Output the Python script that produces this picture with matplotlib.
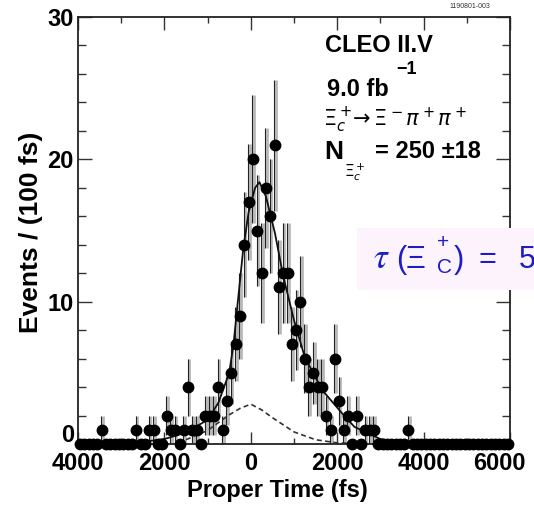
import numpy as np
import matplotlib
matplotlib.use("Agg")
from matplotlib import pyplot as plt
from matplotlib.patches import Rectangle
from matplotlib.ticker import MultipleLocator, FixedLocator
import matplotlib.transforms as mtrans

plt.rcParams['font.family'] = ['Liberation Sans', 'DejaVu Sans']
plt.rcParams['mathtext.fontset'] = 'dejavusans'

# histogram: 100 fs bins from -4000 to 6000 fs
bin_lo = -4000
bin_hi = 6000
bin_w = 100
counts = [0, 0, 0, 0, 0, 1, 0, 0, 0, 0,
          0, 0, 0, 1, 0, 0, 1, 1, 0, 0,
          2, 1, 1, 0, 1, 4, 1, 1, 0, 2,
          2, 2, 4, 1, 3, 5, 7, 9, 14, 17,
          20, 15, 12, 18, 16, 21, 11, 12, 12, 7,
          8, 10, 6, 4, 5, 4, 4, 2, 1, 6,
          3, 1, 2, 0, 2, 0, 1, 1, 1, 0,
          0, 0, 0, 0, 0, 0, 1, 0, 0, 0,
          0, 0, 0, 0, 0, 0, 0, 0, 0, 0,
          0, 0, 0, 0, 0, 0, 0, 0, 0, 0]
errs = [0, 0, 0, 0, 0, 1.0, 0, 0, 0, 0,
        0, 0, 0, 1.0, 0, 0, 1.0, 1.0, 0, 0,
        1.4, 1.0, 1.0, 0, 1.0, 2.0, 1.0, 1.0, 0, 1.4,
        1.4, 1.4, 2.0, 1.0, 1.7, 2.2, 2.6, 3.0, 3.7, 4.1,
        4.5, 3.9, 3.5, 4.2, 4.0, 4.6, 3.3, 3.5, 3.5, 2.6,
        2.8, 3.2, 2.4, 2.0, 2.2, 2.0, 2.0, 1.4, 1.0, 2.4,
        1.7, 1.0, 1.4, 0, 1.4, 0, 1.0, 1.0, 1.0, 0,
        0, 0, 0, 0, 0, 0, 1.0, 0, 0, 0,
        0, 0, 0, 0, 0, 0, 0, 0, 0, 0,
        0, 0, 0, 0, 0, 0, 0, 0, 0, 0]

# fit curves
fit_t = [-2500, -2000, -1500, -1000, -750, -500, -400, -300, -175, -50, 100, 200,
         350, 560, 750, 1000, 1250, 1650, 2100, 2400, 3000, 3500, 4000]
fit_v = [0.15, 0.35, 0.8, 1.7, 2.9, 5.0, 7.0, 10.0, 13.7, 16.3, 18.0, 18.4,
         17.4, 14.8, 11.8, 8.7, 6.1, 3.8, 2.2, 1.2, 0.35, 0.1, 0.03]
bkg_t = [-1500, -1000, -500, -250, 0, 250, 500, 1000, 1500, 2000, 2500]
bkg_v = [0.3, 0.95, 2.05, 2.5, 2.8, 2.4, 1.85, 0.85, 0.3, 0.08, 0.02]

xtick_vals = [-4000, -2000, 0, 2000, 4000, 6000]
xtick_text = ['4000', '2000', '0', '2000', '4000', '6000']
ytick_vals = [0, 10, 20, 30]

W, H = 534, 507
fig = plt.figure(figsize=(W / 100, H / 100), dpi=100)
ax = fig.add_axes([78 / W, 63 / H, 432 / W, 427 / H])

t = np.arange(bin_lo + bin_w / 2, bin_hi, bin_w)
c = np.array(counts, float)
e = np.array(errs, float)
has = c > 0

# scanned-looking error bars: grey wide + thin black
ax.vlines(t[has] + 25, c[has] - e[has], c[has] + e[has], color='#b8b8b8', lw=2.0, zorder=1)
ax.vlines(t[has] - 15, c[has] - e[has], c[has] + e[has], color='#222222', lw=0.8, zorder=2)

ax.plot(fit_t, fit_v, color='#111111', lw=1.3, zorder=2)
ax.plot(bkg_t, bkg_v, color='#333333', lw=1.2, ls=(0, (3, 2)), zorder=2)
ax.plot(t, c, 'o', color='black', ms=7.5, clip_on=False, zorder=4)

ax.set_xlim(bin_lo, bin_hi)
ax.set_ylim(0, 30)
ax.xaxis.set_major_locator(FixedLocator(xtick_vals))
ax.set_xticklabels(xtick_text)
ax.xaxis.set_minor_locator(MultipleLocator(1000))
ax.yaxis.set_major_locator(FixedLocator(ytick_vals))
ax.yaxis.set_minor_locator(MultipleLocator(2))
ax.tick_params(which='both', direction='in', top=True, right=True, width=1.0, color='#333333')
ax.tick_params(axis='x', which='major', length=9, pad=6, labelsize=17)
ax.tick_params(axis='x', which='minor', length=4.5)
ax.tick_params(axis='y', which='major', length=10, pad=3, labelsize=17)
ax.tick_params(axis='y', which='minor', length=6)
for lab in ax.get_xticklabels() + ax.get_yticklabels():
    lab.set_fontweight('bold')
for s in ax.spines.values():
    s.set_linewidth(1.3)
    s.set_color('#222222')

# nudge the edge labels like in the original
lx = ax.get_xticklabels()[-1]
lx.set_transform(lx.get_transform() + mtrans.ScaledTranslation(-8 / 72, 0, fig.dpi_scale_trans))
ly = ax.get_yticklabels()[0]
ly.set_transform(ly.get_transform() + mtrans.ScaledTranslation(0, 8 / 72, fig.dpi_scale_trans))

def px(x, y):
    return x / W, 1 - y / H

fig.text(*px(31, 232), 'Events / (100 fs)', rotation=90, ha='center', va='center',
         fontsize=19, fontweight='bold')
fig.text(*px(277, 490), 'Proper Time (fs)', ha='center', va='center',
         fontsize=17, fontweight='bold')

# label block
fig.text(*px(325, 45), 'CLEO II.V', ha='left', va='center', fontsize=17, fontweight='bold')
fig.text(*px(327, 89), '9.0 fb', ha='left', va='center', fontsize=17, fontweight='bold')
fig.text(*px(396, 69), '\u22121', ha='left', va='center', fontsize=13, fontweight='bold')
fig.text(*px(323, 120), r'$\Xi_c^+\!\!\rightarrow\Xi^-\pi^+\pi^+$', ha='left', va='center',
         fontsize=15)
fig.text(*px(324, 152), 'N', ha='left', va='center', fontsize=19, fontweight='bold')
fig.text(*px(344, 172), r'$\Xi_c^+$', ha='left', va='center', fontsize=11)
fig.text(*px(375, 152), '= 250 \u00b118', ha='left', va='center', fontsize=17, fontweight='bold')
fig.text(*px(470, 6), '1190801-003', ha='center', va='center', fontsize=5, color='#333333')

# highlighted lifetime box cut at the right edge
fig.add_artist(Rectangle(px(357, 290), 177 / W, 62 / H, transform=fig.transFigure,
                         facecolor='#fcf3fc', edgecolor='none', zorder=5))
blue = '#1c1cc8'
tau_parts = [
    (373, 268, r'$\tau$', 25, 'stix'),
    (396, 268, '(', 22, None),
    (406, 268, '\u039e', 22, None),
    (437, 248, '+', 15, None),
    (437, 273, 'C', 15, None),
    (454, 268, ')', 22, None),
    (478, 268, '=', 22, None),
    (519, 268, '5', 22, None),
]
for xx, yy, s, fs, mf in tau_parts:
    kw = {'math_fontfamily': mf} if mf else {}
    fig.text(*px(xx, yy), s, ha='left', va='baseline', fontsize=fs, color=blue,
             zorder=6, **kw)

fig.savefig('out.png', dpi=100)
